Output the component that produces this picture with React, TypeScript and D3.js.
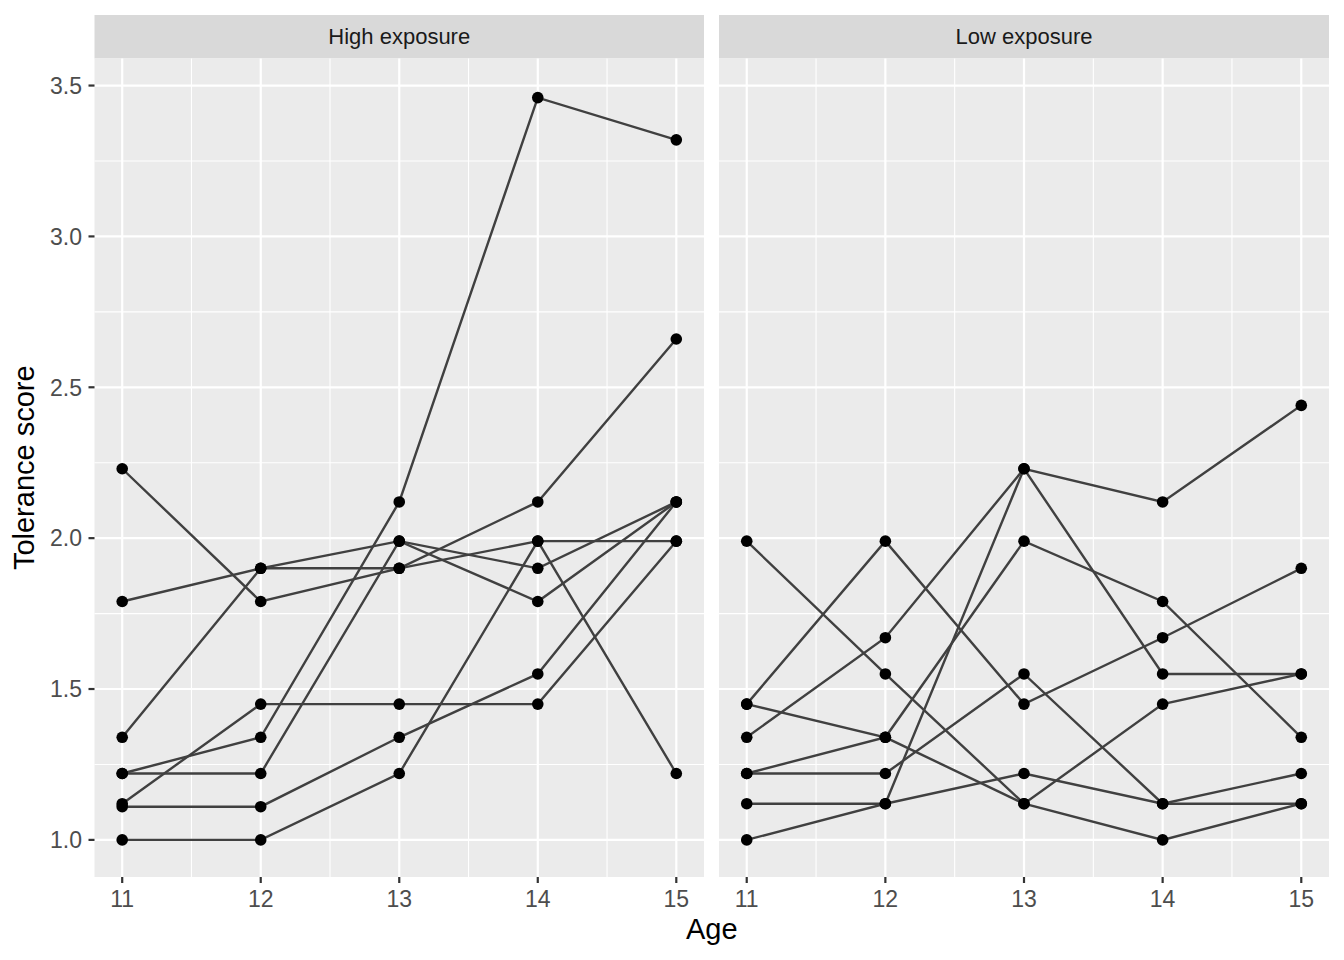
import React from "react";
import * as d3 from "d3";

const ages = [11, 12, 13, 14, 15];
const panels = ["High exposure", "Low exposure"];
const highIds = ["9", "45", "569", "918", "978", "1105", "1542", "1653"];
const highValues = [
  [2.23, 1.79, 1.9, 2.12, 2.66],
  [1.12, 1.45, 1.45, 1.45, 1.99],
  [1.79, 1.9, 1.9, 1.99, 1.99],
  [1.0, 1.0, 1.22, 1.99, 1.22],
  [1.22, 1.34, 2.12, 3.46, 3.32],
  [1.34, 1.9, 1.99, 1.9, 2.12],
  [1.22, 1.22, 1.99, 1.79, 2.12],
  [1.11, 1.11, 1.34, 1.55, 2.12],
];
const lowIds = ["268", "314", "442", "514", "624", "723", "949", "1552"];
const lowValues = [
  [1.45, 1.34, 1.99, 1.79, 1.34],
  [1.22, 1.22, 1.55, 1.12, 1.12],
  [1.45, 1.99, 1.45, 1.67, 1.9],
  [1.34, 1.67, 2.23, 2.12, 2.44],
  [1.12, 1.12, 1.22, 1.12, 1.22],
  [1.22, 1.34, 1.12, 1.0, 1.12],
  [1.99, 1.55, 1.12, 1.45, 1.55],
  [1.0, 1.12, 2.23, 1.55, 1.55],
];
const yTicks = [1.0, 1.5, 2.0, 2.5, 3.0, 3.5];
const yMinor = [1.25, 1.75, 2.25, 2.75, 3.25];
const xMinor = [11.5, 12.5, 13.5, 14.5];

export default function App() {
  const W = 1344, H = 960;
  const panelX = [[94.5, 704], [719, 1329]];
  const top = 58.5, bottom = 877;
  const stripTop = 15;
  const allVals = [...highValues.flat(), ...lowValues.flat()];
  const ymin = d3.min(allVals)!, ymax = d3.max(allVals)!;
  const pad = (ymax - ymin) * 0.05;
  const y = d3.scaleLinear().domain([ymin - pad, ymax + pad]).range([bottom, 60.5]);
  const groups = [
    { ids: highIds, values: highValues },
    { ids: lowIds, values: lowValues },
  ];
  const font = "Liberation Sans, Arial, sans-serif";
  return (
    <svg width={W} height={H} style={{ position: "absolute", left: 0, top: 0, background: "#fff" }} fontFamily={font}>
      {panels.map((p, pi) => {
        const [x0, x1] = panelX[pi];
        const x = d3.scaleLinear().domain([11 - 0.2, 15 + 0.2]).range([x0, x1]);
        const line = d3.line<number>().x((_, i) => x(ages[i])).y((v) => y(v));
        const g = groups[pi];
        return (
          <g key={p}>
            <rect x={x0} y={stripTop} width={x1 - x0} height={top - stripTop} fill="#d9d9d9" />
            <text x={(x0 + x1) / 2} y={(stripTop + top) / 2} dy="0.35em" textAnchor="middle" fontSize={22} fill="#1a1a1a">{p}</text>
            <rect x={x0} y={top} width={x1 - x0} height={bottom - top} fill="#ebebeb" />
            {yMinor.map((t) => (
              <line key={"ym" + t} x1={x0} x2={x1} y1={y(t)} y2={y(t)} stroke="#fff" strokeWidth={1.1} />
            ))}
            {xMinor.map((t) => (
              <line key={"xm" + t} x1={x(t)} x2={x(t)} y1={top} y2={bottom} stroke="#fff" strokeWidth={1.1} />
            ))}
            {yTicks.map((t) => (
              <line key={"y" + t} x1={x0} x2={x1} y1={y(t)} y2={y(t)} stroke="#fff" strokeWidth={2.2} />
            ))}
            {ages.map((t) => (
              <line key={"x" + t} x1={x(t)} x2={x(t)} y1={top} y2={bottom} stroke="#fff" strokeWidth={2.2} />
            ))}
            {g.values.map((vals, i) => (
              <path key={g.ids[i]} d={line(vals)!} fill="none" stroke="#404040" strokeWidth={2.4} />
            ))}
            {g.values.map((vals, i) =>
              vals.map((v, j) => (
                <circle key={g.ids[i] + "-" + j} cx={x(ages[j])} cy={y(v)} r={5.8} fill="#000" />
              ))
            )}
            {ages.map((t) => (
              <g key={"xt" + t}>
                <line x1={x(t)} x2={x(t)} y1={bottom} y2={bottom + 6} stroke="#333" strokeWidth={2.2} />
                <text x={x(t)} y={907} textAnchor="middle" fontSize={23} fill="#4d4d4d">{t}</text>
              </g>
            ))}
          </g>
        );
      })}
      {yTicks.map((t) => (
        <g key={"yt" + t}>
          <line x1={88.5} x2={94.5} y1={y(t)} y2={y(t)} stroke="#333" strokeWidth={2.2} />
          <text x={82} y={y(t)} dy="0.36em" textAnchor="end" fontSize={23} fill="#4d4d4d">{t.toFixed(1)}</text>
        </g>
      ))}
      <text x={(94.5 + 1329) / 2} y={939} textAnchor="middle" fontSize={29} fill="#000">Age</text>
      <text transform={`translate(34, ${(top + bottom) / 2}) rotate(-90)`} textAnchor="middle" fontSize={29} fill="#000">Tolerance score</text>
    </svg>
  );
}
